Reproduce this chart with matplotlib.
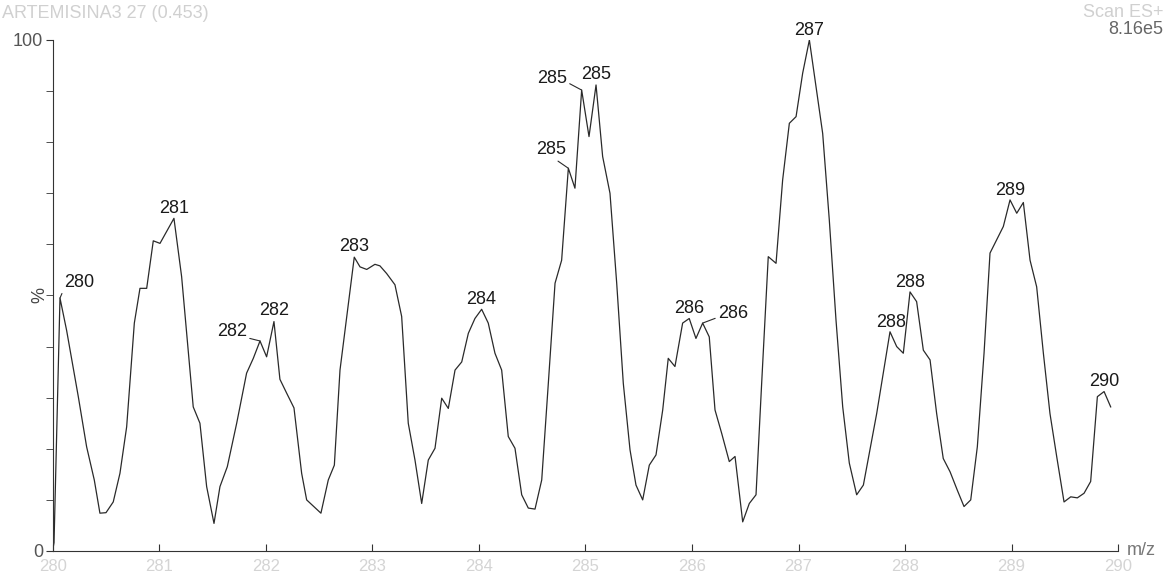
import matplotlib.pyplot as plt
import numpy as np

plt.rcParams['font.family'] = ['Liberation Sans', 'DejaVu Sans']

# spectrum (m/z, relative intensity %)
mz = [280.000, 280.010, 280.066, 280.128, 280.238, 280.316, 280.388, 280.441, 280.498, 280.566,
      280.629, 280.692, 280.764, 280.817, 280.880, 280.942, 281.005, 281.136, 281.208, 281.317,
      281.380, 281.443, 281.512, 281.568, 281.637, 281.725, 281.818, 281.881, 281.944, 282.006,
      282.075, 282.131, 282.194, 282.263, 282.335, 282.382, 282.516, 282.585, 282.642, 282.695,
      282.829, 282.883, 282.946, 283.023, 283.070, 283.133, 283.211, 283.274, 283.336, 283.399,
      283.462, 283.524, 283.587, 283.650, 283.712, 283.775, 283.838, 283.900, 283.962, 284.025,
      284.087, 284.150, 284.213, 284.275, 284.338, 284.401, 284.463, 284.526, 284.589, 284.651,
      284.714, 284.776, 284.839, 284.901, 284.964, 285.033, 285.099, 285.161, 285.230, 285.293,
      285.355, 285.418, 285.474, 285.537, 285.599, 285.662, 285.725, 285.777, 285.840, 285.912,
      285.974, 286.037, 286.100, 286.162, 286.216, 286.279, 286.350, 286.404, 286.476, 286.538,
      286.601, 286.654, 286.716, 286.789, 286.851, 286.914, 286.977, 287.039, 287.102, 287.164,
      287.227, 287.289, 287.352, 287.415, 287.477, 287.546, 287.609, 287.671, 287.734, 287.796,
      287.859, 287.922, 287.984, 288.047, 288.109, 288.172, 288.235, 288.297, 288.359, 288.423,
      288.491, 288.554, 288.617, 288.679, 288.742, 288.798, 288.861, 288.923, 288.986, 289.049,
      289.111, 289.174, 289.236, 289.299, 289.361, 289.424, 289.493, 289.556, 289.618, 289.681,
      289.743, 289.806, 289.869, 289.931]
intensity = [0.5, 1.6, 49.5, 43.2, 30.2, 20.4, 13.9, 7.4, 7.5, 9.6,
             15.2, 24.3, 44.6, 51.4, 51.4, 60.7, 60.2, 65.1, 53.7, 28.2,
             25.0, 12.6, 5.4, 12.6, 16.5, 25.0, 34.8, 37.7, 41.1, 38.0,
             44.9, 33.6, 30.9, 28.0, 15.2, 10.0, 7.4, 13.9, 16.8, 35.4,
             57.5, 55.6, 55.1, 56.1, 55.8, 54.3, 52.1, 45.9, 25.0, 17.8,
             9.3, 17.8, 20.1, 29.9, 27.9, 35.4, 37.0, 42.6, 45.5, 47.3,
             44.6, 38.7, 35.4, 22.4, 20.1, 11.0, 8.4, 8.2, 13.9, 32.8,
             52.4, 56.9, 74.9, 71.0, 90.2, 81.1, 91.2, 77.2, 70.0, 52.4,
             32.8, 19.8, 12.9, 10.0, 16.8, 18.8, 27.6, 37.7, 36.1, 44.6,
             45.5, 41.6, 44.6, 41.9, 27.6, 23.0, 17.5, 18.5, 5.7, 9.3,
             11.0, 32.8, 57.6, 56.3, 72.6, 83.7, 85.0, 93.5, 100.0, 90.9,
             81.7, 64.8, 45.2, 28.2, 17.2, 11.0, 12.9, 19.8, 26.9, 34.8,
             42.9, 40.0, 38.7, 50.7, 48.8, 39.3, 37.4, 26.9, 18.1, 15.5,
             11.9, 8.7, 10.0, 20.4, 38.7, 58.3, 60.9, 63.5, 68.7, 66.1,
             68.2, 56.9, 51.7, 38.7, 26.9, 18.5, 9.6, 10.6, 10.4, 11.3,
             13.6, 30.2, 31.2, 28.2]

# peak labels: text, peak point, text position
peak_labels = ['280', '281', '282', '282', '283', '284', '285', '285', '285',
               '286', '286', '287', '288', '288', '289', '290']
peak_mz = [280.066, 281.136, 281.944, 282.075, 282.829, 284.025, 284.964, 285.099, 284.839,
           285.974, 286.100, 287.102, 287.859, 288.047, 288.986, 289.869]
peak_int = [49.5, 65.1, 41.1, 44.9, 57.5, 47.3, 90.2, 91.2, 74.9,
            45.5, 44.6, 100.0, 42.9, 50.7, 68.7, 31.2]
text_mz = [280.244, 281.136, 281.681, 282.075, 282.826, 284.019, 284.685, 285.099, 284.676,
           285.972, 286.385, 287.099, 287.869, 288.047, 288.986, 289.869]
text_int = [52.6, 67.1, 42.9, 47.0, 59.5, 49.3, 92.4, 93.3, 78.5,
            47.5, 46.4, 101.9, 44.8, 52.6, 70.6, 33.1]
# which labels get a leader line, and where it leaves the text box
leader = [(0.0, 0.1), None, (1.0, 0.15), None, None, None, (1.0, 0.3), None, (0.6, 0.0),
          None, (0.0, 0.3), None, None, None, None, None]

fig = plt.figure(figsize=(11.69, 5.73), dpi=100)
ax = fig.add_axes([0.0453, 0.0384, 0.9111, 0.8918])

ax.plot(mz, intensity, color='#2a2a2a', lw=0.9)

for i in range(len(peak_labels)):
    if leader[i] is None:
        ax.text(text_mz[i], text_int[i], peak_labels[i], ha='center', va='center',
                fontsize=13, color='#1a1a1a')
    else:
        ax.annotate(peak_labels[i], xy=(peak_mz[i], peak_int[i]), xytext=(text_mz[i], text_int[i]),
                    ha='center', va='center', fontsize=13, color='#1a1a1a',
                    arrowprops=dict(arrowstyle='-', color='#2a2a2a', lw=0.8,
                                    shrinkA=0, shrinkB=0, relpos=leader[i]))

ax.set_xlim(280, 290)
ax.set_ylim(0, 100)
ax.spines['top'].set_visible(False)
ax.spines['right'].set_visible(False)
ax.spines['left'].set_color('#333333')
ax.spines['bottom'].set_color('#333333')

ax.set_xticks(np.arange(280, 291, 1))
ax.set_xticklabels([str(v) for v in range(280, 291)])
ax.tick_params(axis='x', direction='in', length=5, pad=6, labelsize=12,
               labelcolor='#d4d4d4', color='#333333')
ax.set_yticks([0, 100])
ax.set_yticklabels(['0', '100'])
ax.set_yticks(np.arange(10, 100, 10), minor=True)
ax.tick_params(axis='y', which='both', direction='out', length=5, pad=2,
               labelsize=13, labelcolor='#555555', color='#333333')

ax.text(-0.012, 0.5, '%', transform=ax.transAxes, rotation=90, ha='center', va='center',
        fontsize=13, color='#444444')
ax.text(1.008, 0.0, 'm/z', transform=ax.transAxes, ha='left', va='center',
        fontsize=13, color='#777777')

# header texts
fig.text(0.002, 0.977, 'ARTEMISINA3 27 (0.453)', ha='left', va='center',
         fontsize=13, color='#d0d0d0')
fig.text(0.995, 0.979, 'Scan ES+', ha='right', va='center', fontsize=13, color='#d0d0d0')
fig.text(0.995, 0.948, '8.16e5', ha='right', va='center', fontsize=13, color='#666666')

fig.savefig('out.png', dpi=100)
